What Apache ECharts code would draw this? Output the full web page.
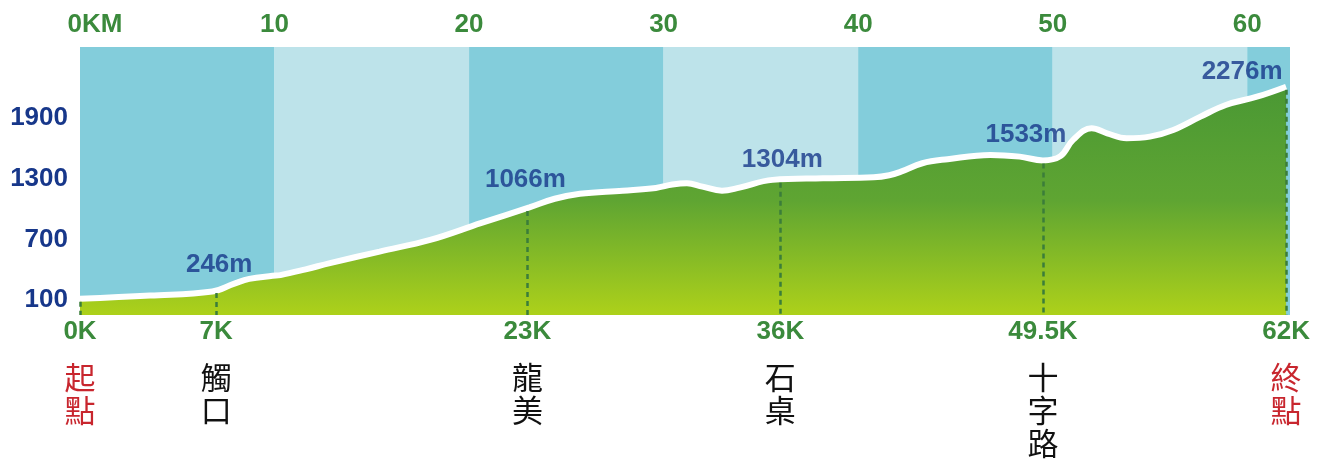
<!DOCTYPE html>
<html>
<head>
<meta charset="utf-8">
<script src="https://cdn.jsdelivr.net/npm/echarts@6/dist/echarts.min.js"></script>
<style>
html,body{margin:0;padding:0;background:#fff;}
#chart{width:1325px;height:463px;}
</style>
</head>
<body>
<div id="chart"></div>
<script>
// ---- data ----
const kmTicks = [0, 10, 20, 30, 40, 50, 60];
const kmTickLabels = ['0KM', '10', '20', '30', '40', '50', '60'];
const elevTicks = [100, 700, 1300, 1900];
const bandEdges = [0, 10, 20, 30, 40, 50, 60, 62.2];

const profileKm = [0, 3.6, 6.8, 7.9, 8.7, 9.9, 10.3, 11.6, 12.85, 15.4, 18.0, 20.6, 23.1, 24.4, 25.7, 27.9, 29.6, 30.45, 31.2, 32.0, 33.0, 33.9, 35.6, 38.2, 40.8, 41.6, 42.2, 43.3, 44.6, 46.8, 48.3, 49.5, 50.4, 51.05, 52.0, 52.8, 53.8, 55.0, 56.2, 57.6, 58.9, 60.5, 62];
const profileElev = [115, 147, 187, 262, 311, 341, 348, 405, 466, 580, 695, 860, 1015, 1100, 1150, 1180, 1207, 1240, 1253, 1220, 1180, 1210, 1286, 1302, 1312, 1332, 1367, 1450, 1490, 1532, 1515, 1478, 1520, 1680, 1794, 1745, 1696, 1712, 1778, 1909, 2024, 2105, 2204];

const stationKm = [0, 7, 23, 36, 49.5, 62];
const stationTick = ['0K', '7K', '23K', '36K', '49.5K', '62K'];
const stationName = ['起點', '觸口', '龍美', '石桌', '十字路', '終點'];
const stationIsEnd = [true, false, false, false, false, true];

const peakKm = [7, 23, 36, 49.5, 62];
const peakText = ['246m', '1066m', '1304m', '1533m', '2276m'];

// ---- helpers ----
function interp(k) {
  for (let i = 0; i < profileKm.length - 1; i++) {
    if (k >= profileKm[i] && k <= profileKm[i + 1]) {
      const t = (k - profileKm[i]) / (profileKm[i + 1] - profileKm[i]);
      return profileElev[i] + t * (profileElev[i + 1] - profileElev[i]);
    }
  }
  return profileElev[profileElev.length - 1];
}
function idxOf(arr, v) {
  for (let i = 0; i < arr.length; i++) if (Math.abs(arr[i] - v) < 1e-6) return i;
  return -1;
}

const FONT = "'Liberation Sans', Arial, Helvetica, sans-serif";
const CJK = "'Noto Sans CJK TC', 'Noto Sans CJK SC', sans-serif";
const XMIN = 0, XMAX = 62.2, YMIN = -45, YMAX = 2595;
const BLUE = '#17378a';
const GREEN = '#3b8a3c';

const labelNudge = [[3, -12], [-2, -15], [2, -7], [-17, -13], [-44, -2]];

const chart = echarts.init(document.getElementById('chart'));

const bandData = [];
for (let i = 0; i < bandEdges.length - 1; i++) {
  bandData.push([
    { xAxis: bandEdges[i], itemStyle: { color: i % 2 === 0 ? '#83cddb' : '#bde3ea' } },
    { xAxis: bandEdges[i + 1] }
  ]);
}

const option = {
  backgroundColor: '#ffffff',
  animation: false,
  grid: { left: 80, right: 35, top: 47, bottom: 148, containLabel: false },
  xAxis: [
    {
      type: 'value', min: XMIN, max: XMAX, position: 'bottom',
      axisLine: { show: false }, axisTick: { show: false }, splitLine: { show: false },
      axisLabel: {
        customValues: stationKm,
        formatter: v => stationTick[idxOf(stationKm, v)] || '',
        color: GREEN, fontWeight: 'bold', fontSize: 26, fontFamily: FONT,
        lineHeight: 26, margin: 4
      }
    },
    {
      type: 'value', min: XMIN, max: XMAX, position: 'bottom', offset: 40,
      axisLine: { show: false }, axisTick: { show: false }, splitLine: { show: false },
      axisLabel: {
        customValues: stationKm,
        formatter: v => {
          const i = idxOf(stationKm, v);
          if (i < 0) return '';
          const tag = stationIsEnd[i] ? 'r' : 'b';
          return stationName[i].split('').map(c => '{' + tag + '|' + c + '}').join('\n');
        },
        margin: 6,
        rich: {
          r: { color: '#c8262e', fontSize: 31, lineHeight: 33, fontFamily: CJK },
          b: { color: '#111111', fontSize: 31, lineHeight: 33, fontFamily: CJK }
        }
      }
    },
    {
      type: 'value', min: XMIN, max: XMAX, position: 'top',
      axisLine: { show: false }, axisTick: { show: false }, splitLine: { show: false },
      axisLabel: {
        customValues: kmTicks,
        formatter: v => {
          const i = idxOf(kmTicks, v);
          if (i < 0) return '';
          return i === 0 ? '{f|' + kmTickLabels[i] + '}' : kmTickLabels[i];
        },
        color: GREEN, fontWeight: 'bold', fontSize: 26, fontFamily: FONT, margin: 9,
        rich: { f: { color: GREEN, fontWeight: 'bold', fontSize: 26, fontFamily: FONT, padding: [0, 0, 0, 30] } }
      }
    }
  ],
  yAxis: {
    type: 'value', min: YMIN, max: YMAX,
    axisLine: { show: false }, axisTick: { show: false }, splitLine: { show: false },
    axisLabel: {
      customValues: elevTicks,
      formatter: v => String(v),
      color: BLUE, fontWeight: 'bold', fontSize: 26, fontFamily: FONT, margin: 12
    }
  },
  series: [
    {
      name: 'bands', type: 'line', data: [], z: 1, silent: true,
      markArea: { silent: true, data: bandData }
    },
    {
      name: 'fill', type: 'line', z: 2, silent: true,
      data: profileKm.map((k, i) => [k, profileElev[i]]),
      smooth: 0.4, showSymbol: false,
      lineStyle: { width: 0 },
      areaStyle: {
        origin: 'start', opacity: 1,
        color: new echarts.graphic.LinearGradient(0, 0, 0, 1, [
          { offset: 0, color: '#4a9834' },
          { offset: 0.5, color: '#5fa532' },
          { offset: 1, color: '#add11a' }
        ])
      }
    },
    {
      name: 'stations', type: 'line', data: [], z: 3, silent: true,
      markLine: {
        silent: true, symbol: 'none', label: { show: false },
        lineStyle: { color: '#3b7d3a', width: 2.5, type: [5, 4] },
        data: stationKm.map(k => [{ coord: [k, interp(k) - 30] }, { coord: [k, YMIN] }])
      }
    },
    {
      name: 'profile', type: 'line', z: 4, silent: true,
      data: profileKm.map((k, i) => [k, profileElev[i]]),
      smooth: 0.4, showSymbol: false,
      lineStyle: { color: '#ffffff', width: 6 }
    },
    {
      name: 'peaks', type: 'scatter', z: 5, silent: true, symbolSize: 0,
      data: peakKm.map((k, i) => ({
        value: [k, interp(k)],
        label: { offset: labelNudge[i] }
      })),
      label: {
        show: true, position: 'top', distance: 0,
        formatter: p => peakText[p.dataIndex],
        color: BLUE, fontWeight: 'bold', fontSize: 26, fontFamily: FONT
      }
    }
  ]
};
chart.setOption(option);
</script>
</body>
</html>
